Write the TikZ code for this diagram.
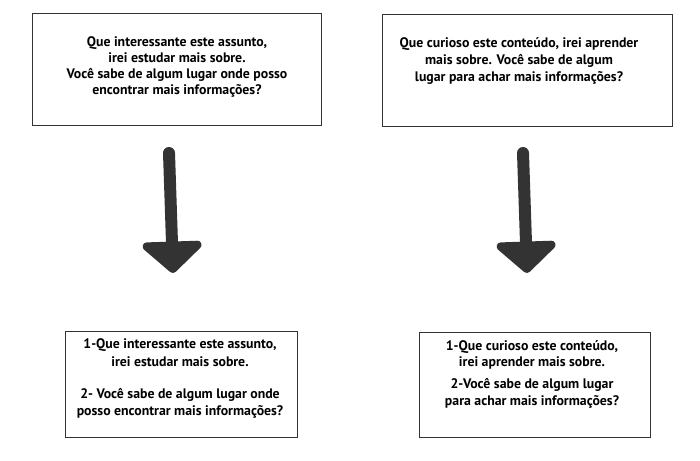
\documentclass[tikz,border=0pt]{standalone}
\usepackage{fontspec}
\setmainfont{PT Sans}
\usetikzlibrary{arrows.meta}
\begin{document}
\begin{tikzpicture}[x=1pt,y=-1pt,
	caixa/.style={draw=black!80,line width=0.9pt,minimum width=#1,inner sep=0pt},
	texto/.style={align=center,font=\bfseries\fontsize{13.8}{16}\selectfont,inner sep=0pt},
	seta/.style={draw=black!80,line width=12pt,line cap=round,-{Triangle[width=70pt,length=33pt,round]}}]
	\useasboundingbox (0,0) rectangle (700,460);
	% caixas de cima
	\node [caixa=289pt,minimum height=112pt] (c1) at (176.5,69) {};
	\node [texto] (t1) at (177,67) {Que interessante este assunto,\\ irei estudar mais sobre.\\ Você sabe de algum lugar onde posso\\ encontrar mais informações?};
	\node [caixa=290pt,minimum height=112pt] (c2) at (527,70) {};
	\node [texto] (t2) at (519,61) {Que curioso este conteúdo, irei aprender\\[1.5pt] mais sobre. Você sabe de algum\\[1pt] lugar para achar mais informações?};
	% caixas de baixo
	\node [caixa=232pt,minimum height=106pt] (c3) at (181,384) {};
	\node [texto] (t3) at (180,378.5) {1-Que interessante este assunto,\\[1.5pt] irei estudar mais sobre.\\[16pt] 2- Você sabe de algum lugar onde\\[1pt] posso encontrar mais informações?};
	\node [caixa=231pt,minimum height=105pt] (c4) at (534.5,384.5) {};
	\node [texto] (t4) at (532,374.5) {1-Que curioso este conteúdo,\\ irei aprender mais sobre.\\[6pt] 2-Você sabe de algum lugar\\[1pt] para achar mais informações?};
	% setas
	\coordinate (s1) at (169,153);
	\coordinate (e1) at (173,273);
	\coordinate (s2) at (523,153);
	\coordinate (e2) at (527,273);
	\draw [seta] (s1) -- (e1);
	\draw [seta] (s2) -- (e2);
\end{tikzpicture}
\end{document}
